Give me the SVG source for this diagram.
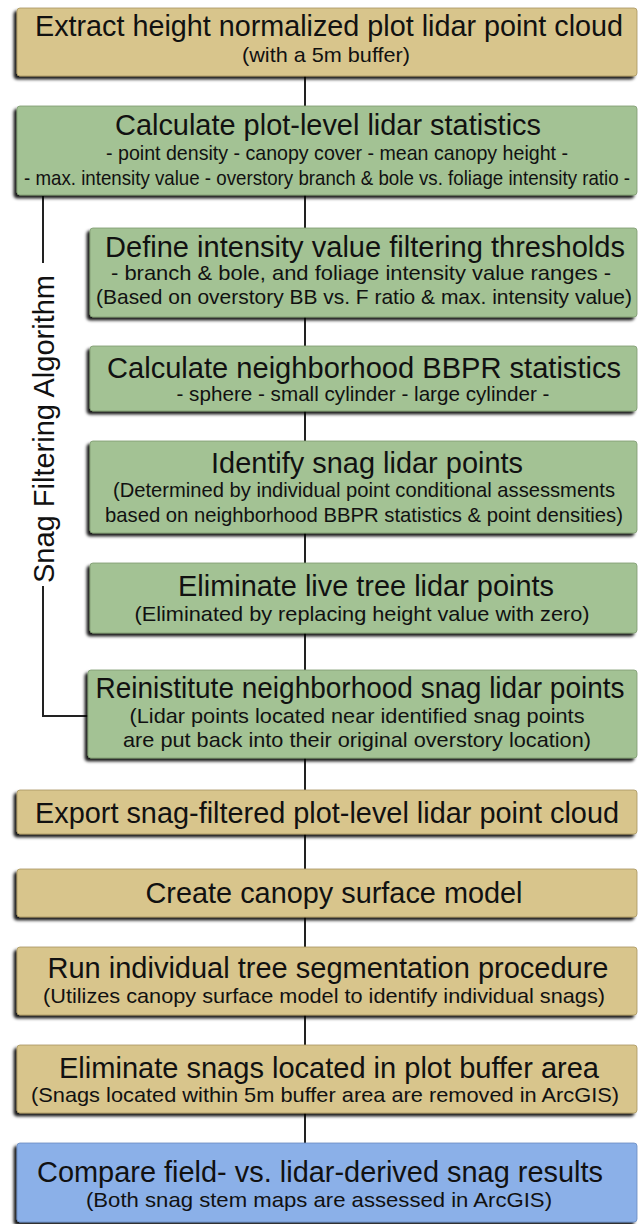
<svg xmlns="http://www.w3.org/2000/svg" width="643" height="1224" viewBox="0 0 643 1224">
<defs>
<filter id="sh" x="-5%" y="-10%" width="110%" height="130%">
<feDropShadow dx="-3" dy="3" stdDeviation="1.4" flood-color="#000" flood-opacity="0.9"/>
</filter>
<style>
.tan{fill:#d8c58c;stroke:#a89660;stroke-width:0.8}
.grn{fill:#a3c294;stroke:#7d9a70;stroke-width:0.8}
.blu{fill:#8bb0e8;stroke:#6a8cc0;stroke-width:0.8}
.box{filter:url(#sh)}
text{font-family:"Liberation Sans",Arial,sans-serif;fill:#111;text-anchor:middle}
.t{font-size:29.5px}
.s{font-size:21px}
.c{stroke:#222;stroke-width:2;fill:none}
</style>
</defs>
<rect width="643" height="1224" fill="#fff"/>
<g id="connectors">
<path class="c" d="M305,76V106M305,195V228M305,317V346M305,411V441M305,533V563M305,633V670M305,758V790M305,834V869M305,917V947M305,1015V1045M305,1113V1143"/>
<path class="c" d="M43,196V263M43,586V716H88"/>
</g>
<g id="bracket-label">
<text class="t" transform="translate(54,429) rotate(-90)" textLength="308" lengthAdjust="spacingAndGlyphs">Snag Filtering Algorithm</text>
</g>
<g id="n1">
<rect class="box tan" x="17" y="8" width="620" height="68" rx="3"/>
<text class="t" x="329" y="36" textLength="588" lengthAdjust="spacingAndGlyphs">Extract height normalized plot lidar point cloud</text>
<text class="s" x="326" y="62" textLength="168" lengthAdjust="spacingAndGlyphs">(with a 5m buffer)</text>
</g>
<g id="n2">
<rect class="box grn" x="17" y="106" width="620" height="89" rx="3"/>
<text class="t" x="328" y="135" textLength="426" lengthAdjust="spacingAndGlyphs">Calculate plot-level lidar statistics</text>
<text class="s" x="337" y="160" textLength="462" lengthAdjust="spacingAndGlyphs">- point density - canopy cover - mean canopy height -</text>
<text class="s" x="327" y="185" textLength="606" lengthAdjust="spacingAndGlyphs">- max. intensity value - overstory branch &amp; bole vs. foliage intensity ratio -</text>
</g>
<g id="n3">
<rect class="box grn" x="90" y="228" width="547" height="89" rx="3"/>
<text class="t" x="365" y="257" textLength="520" lengthAdjust="spacingAndGlyphs">Define intensity value filtering thresholds</text>
<text class="s" x="361" y="280" textLength="500" lengthAdjust="spacingAndGlyphs">- branch &amp; bole, and foliage intensity value ranges -</text>
<text class="s" x="364" y="304" textLength="536" lengthAdjust="spacingAndGlyphs">(Based on overstory BB vs. F ratio &amp; max. intensity value)</text>
</g>
<g id="n4">
<rect class="box grn" x="90" y="346" width="547" height="65" rx="3"/>
<text class="t" x="364" y="378" textLength="514" lengthAdjust="spacingAndGlyphs">Calculate neighborhood BBPR statistics</text>
<text class="s" x="363" y="401" textLength="373" lengthAdjust="spacingAndGlyphs">- sphere - small cylinder - large cylinder -</text>
</g>
<g id="n5">
<rect class="box grn" x="90" y="441" width="547" height="92" rx="3"/>
<text class="t" x="367" y="473" textLength="312" lengthAdjust="spacingAndGlyphs">Identify snag lidar points</text>
<text class="s" x="364" y="497" textLength="502" lengthAdjust="spacingAndGlyphs">(Determined by individual point conditional assessments</text>
<text class="s" x="364" y="522" textLength="518" lengthAdjust="spacingAndGlyphs">based on neighborhood BBPR statistics &amp; point densities)</text>
</g>
<g id="n6">
<rect class="box grn" x="90" y="563" width="547" height="70" rx="3"/>
<text class="t" x="366" y="596" textLength="376" lengthAdjust="spacingAndGlyphs">Eliminate live tree lidar points</text>
<text class="s" x="362" y="621" textLength="455" lengthAdjust="spacingAndGlyphs">(Eliminated by replacing height value with zero)</text>
</g>
<g id="n7">
<rect class="box grn" x="88" y="670" width="549" height="88" rx="3"/>
<text class="t" x="360" y="698" textLength="529" lengthAdjust="spacingAndGlyphs">Reinistitute neighborhood snag lidar points</text>
<text class="s" x="357" y="723" textLength="455" lengthAdjust="spacingAndGlyphs">(Lidar points located near identified snag points</text>
<text class="s" x="357" y="747" textLength="468" lengthAdjust="spacingAndGlyphs">are put back into their original overstory location)</text>
</g>
<g id="n8">
<rect class="box tan" x="17" y="790" width="620" height="44" rx="3"/>
<text class="t" x="327" y="823" textLength="584" lengthAdjust="spacingAndGlyphs">Export snag-filtered plot-level lidar point cloud</text>
</g>
<g id="n9">
<rect class="box tan" x="17" y="869" width="620" height="48" rx="3"/>
<text class="t" x="334" y="903" textLength="377" lengthAdjust="spacingAndGlyphs">Create canopy surface model</text>
</g>
<g id="n10">
<rect class="box tan" x="17" y="947" width="620" height="68" rx="3"/>
<text class="t" x="328" y="978" textLength="561" lengthAdjust="spacingAndGlyphs">Run individual tree segmentation procedure</text>
<text class="s" x="324" y="1003" textLength="562" lengthAdjust="spacingAndGlyphs">(Utilizes canopy surface model to identify individual snags)</text>
</g>
<g id="n11">
<rect class="box tan" x="17" y="1045" width="620" height="68" rx="3"/>
<text class="t" x="329" y="1078" textLength="540" lengthAdjust="spacingAndGlyphs">Eliminate snags located in plot buffer area</text>
<text class="s" x="325" y="1102" textLength="588" lengthAdjust="spacingAndGlyphs">(Snags located within 5m buffer area are removed in ArcGIS)</text>
</g>
<g id="n12">
<rect class="box blu" x="17" y="1143" width="620" height="79" rx="3"/>
<text class="t" x="320" y="1182" textLength="566" lengthAdjust="spacingAndGlyphs">Compare field- vs. lidar-derived snag results</text>
<text class="s" x="319" y="1207" textLength="466" lengthAdjust="spacingAndGlyphs">(Both snag stem maps are assessed in ArcGIS)</text>
</g>
</svg>
